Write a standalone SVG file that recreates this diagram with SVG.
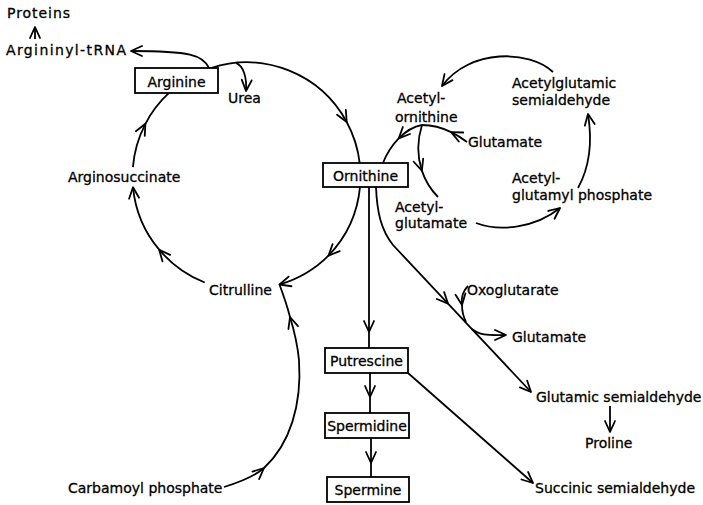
<svg xmlns="http://www.w3.org/2000/svg" width="703" height="505" viewBox="0 0 703 505">
<style>
text{font-family:"DejaVu Sans","Liberation Sans",sans-serif;font-size:14px;fill:#000;stroke:#000;stroke-width:0.3}
.c{text-anchor:middle}
.box{fill:#fff;stroke:#000;stroke-width:1.8}
.ln{fill:none;stroke:#000;stroke-width:1.8}
.ar{fill:none;stroke:#000;stroke-width:1.8;marker-end:url(#a)}
</style>
<defs>
<marker id="a" viewBox="-13 -7 15 14" refX="0" refY="0" markerWidth="15" markerHeight="14" markerUnits="userSpaceOnUse" orient="auto" overflow="visible">
<path d="M-11,-5 L0,0 L-11,5" fill="none" stroke="#000" stroke-width="1.8" stroke-linejoin="round" stroke-linecap="round"/>
</marker>
</defs>
<rect width="703" height="505" fill="#fff"/>
<g id="connectors">
<path class="ar" d="M35,39 L35,27"/>
<path class="ar" d="M209,68 C203,55 190,51 131,51"/>
<path class="ar" d="M211.1,68 A114,114 0 0 1 346.7,122"/>
<path class="ln" d="M346.7,122 A114,114 0 0 1 359.7,163.1"/>
<path class="ar" d="M236,62.9 C243,66 247,76 246,91"/>
<path class="ar" d="M360,186.9 A114,114 0 0 1 328.5,255.6"/>
<path class="ar" d="M328.5,255.6 A114,114 0 0 1 279.5,284.5"/>
<path class="ar" d="M204.7,282.5 A114,114 0 0 1 159.2,249.7"/>
<path class="ar" d="M159.2,249.7 A114,114 0 0 1 133,187.3"/>
<path class="ar" d="M132.9,167.1 A114,114 0 0 1 145.4,123.8"/>
<path class="ln" d="M145.4,123.8 A114,114 0 0 1 169.5,92.4"/>
<path class="ar" d="M224,487 C240,482 255,476 264,468"/>
<path class="ar" d="M264,468 C290,444 302,405 299,360 C297,340 294,330 290,317"/>
<path class="ln" d="M290,317 C287,305 283,294 279.5,284.5"/>
<path class="ar" d="M422,125 C413.5,126.5 405.5,131.5 398.75,138.4"/>
<path class="ln" d="M398.75,138.4 C392,145.25 386.5,154 383,163"/>
<path class="ar" d="M422,125 C417.2,140 417.08,156.08 421.86,170.65"/>
<path class="ln" d="M421.86,170.65 C425.04,180.36 430.4,189.4 438,197"/>
<path class="ar" d="M467,142 C462.2,138.4 456.92,134.96 451.16,132.13"/>
<path class="ln" d="M451.16,132.13 C442.52,127.88 432.8,125 422,125"/>
<path class="ar" d="M553,72 C530,50 470,48 442,86"/>
<path class="ar" d="M578,188 C588,170 593,145 588,114"/>
<path class="ar" d="M476,223 C500,232 535,228 560,208"/>
<path class="ar" d="M376,187 C377,212 381,230 393,245 L448,303.6"/>
<path class="ar" d="M448,303.6 L531,392"/>
<path class="ar" d="M468,286 C462,292 461,298 462,305"/>
<path class="ln" d="M462,305 Q462,314 466,322"/>
<path class="ar" d="M472,329 C480,336 490,335 506,335"/>
<path class="ar" d="M610,406 L610,432"/>
<path class="ar" d="M369,187 L369,332"/>
<path class="ln" d="M369,332 L369,348"/>
<path class="ar" d="M370,373 L370,397"/>
<path class="ln" d="M370,397 L370,413"/>
<path class="ar" d="M371,438 L371,463"/>
<path class="ln" d="M371,463 L371,477"/>
<path class="ar" d="M408,373 L533,483"/>
</g>
<g id="proteins"><text x="7" y="18" textLength="63" lengthAdjust="spacing">Proteins</text></g>
<g id="argininyl-trna"><text x="6" y="55" textLength="120" lengthAdjust="spacing">Argininyl-tRNA</text></g>
<g id="arginine"><rect class="box" x="135" y="68" width="83" height="25"/><text class="c" x="176.5" y="87">Arginine</text></g>
<g id="urea"><text x="228" y="103">Urea</text></g>
<g id="ornithine"><rect class="box" x="323" y="163" width="85" height="24"/><text class="c" x="365.5" y="181">Ornithine</text></g>
<g id="arginosuccinate"><text x="68" y="182">Arginosuccinate</text></g>
<g id="citrulline"><text x="209" y="295">Citrulline</text></g>
<g id="carbamoyl-phosphate"><text x="68" y="493">Carbamoyl phosphate</text></g>
<g id="acetylornithine"><text x="397" y="103">Acetyl-</text><text x="395" y="122">ornithine</text></g>
<g id="glutamate1"><text x="468" y="147">Glutamate</text></g>
<g id="acetylglutamate"><text x="395" y="212">Acetyl-</text><text x="395" y="228">glutamate</text></g>
<g id="acetylglutamyl-phosphate"><text x="512" y="183">Acetyl-</text><text x="512" y="200">glutamyl phosphate</text></g>
<g id="acetylglutamic-semialdehyde"><text x="512" y="88">Acetylglutamic</text><text x="512" y="105">semialdehyde</text></g>
<g id="oxoglutarate"><text x="467" y="295">Oxoglutarate</text></g>
<g id="glutamate2"><text x="512" y="342">Glutamate</text></g>
<g id="glutamic-semialdehyde"><text x="536" y="402">Glutamic semialdehyde</text></g>
<g id="proline"><text x="585" y="448">Proline</text></g>
<g id="putrescine"><rect class="box" x="325" y="348" width="83" height="25"/><text class="c" x="366.5" y="366">Putrescine</text></g>
<g id="spermidine"><rect class="box" x="325" y="413" width="84" height="25"/><text class="c" x="367" y="431">Spermidine</text></g>
<g id="spermine"><rect class="box" x="327" y="477" width="82" height="25"/><text class="c" x="368" y="495">Spermine</text></g>
<g id="succinic-semialdehyde"><text x="535" y="493">Succinic semialdehyde</text></g>
</svg>
